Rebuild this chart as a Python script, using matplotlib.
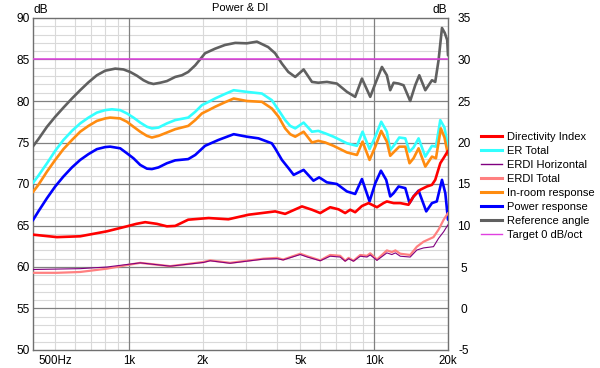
import matplotlib
matplotlib.use("Agg")
import matplotlib.pyplot as plt
from matplotlib.lines import Line2D

plt.rcParams['font.family'] = ['Liberation Sans', 'DejaVu Sans']
plt.rcParams['axes.unicode_minus'] = False

# ---------------- data (Hz, dB) ----------------
ref_f = [404, 426, 462, 499, 539, 584, 631, 682, 738, 798, 877, 948, 1009, 1075, 1144, 1200, 1256,
         1338, 1425, 1541, 1641, 1741, 1860, 2040, 2240, 2460, 2710,
         3020, 3320, 3690, 3940, 4200, 4460, 4760, 5150, 5570, 5910, 6410, 7040, 7740, 8360,
         8910, 9630, 10100, 10750, 11260, 11620, 12000, 12570, 13170, 14020, 14700, 15270,
         16160, 17200, 17740, 18300, 18900, 19400, 19850, 20000]
ref_db = [74.5, 75.4, 76.9, 78.1, 79.2, 80.3, 81.3, 82.25, 83.1, 83.65, 83.9, 83.8, 83.5, 83.05, 82.5, 82.2, 82.05,
          82.2, 82.4, 82.9, 83.1, 83.5, 84.3, 85.75, 86.3, 86.75, 87.0,
          86.95, 87.15, 86.5, 85.75, 84.5, 83.5, 82.9, 83.8, 82.3, 82.2, 82.3, 82.1, 81.1, 80.5,
          82.7, 80.5, 82.1, 84.1, 83.1, 81.3, 82.2, 82.1, 81.9, 80.0, 81.9, 83.1,
          81.3, 82.5, 82.3, 84.9, 88.8, 88.2, 87.35, 85.5]

er_f = [404, 426, 462, 499, 539, 584, 631, 682, 738, 798, 850, 919, 979, 1041, 1109, 1181, 1238, 1317,
        1425, 1541, 1741, 1860, 1980, 2110, 2240, 2460, 2670, 3020,
        3480, 3820, 4070, 4330, 4540, 4760, 5150, 5570, 5910, 6310, 6820, 7740, 8500, 8960, 9570, 10100,
        10680, 11260, 11620, 12070, 12650, 13390, 13930, 14470, 15170, 16160, 17200, 17860,
        18600, 19350, 20000]
er_db = [70.1, 71.0, 72.5, 74.0, 75.3, 76.4, 77.3, 78.0, 78.6, 78.9, 79.0, 78.9, 78.5, 78.0, 77.4, 76.9, 76.7, 76.8,
         77.3, 77.7, 78.0, 78.7, 79.5, 79.9, 80.3, 80.85, 81.3, 81.1,
         80.9, 80.1, 78.9, 77.7, 77.0, 76.7, 77.4, 76.3, 76.4, 76.1, 75.7, 74.9, 74.6, 76.3, 74.2, 75.7,
         77.5, 76.3, 74.1, 74.7, 75.6, 75.5, 73.9, 74.4, 75.5, 73.3, 74.6, 74.5,
         77.7, 76.8, 74.5]

room_f = [404, 426, 462, 499, 539, 584, 631, 682, 738, 798, 836, 919, 979, 1041, 1109, 1181, 1238, 1317,
          1425, 1541, 1741, 1860, 1980, 2110, 2240, 2460, 2670, 3020,
          3480, 3820, 4070, 4330, 4540, 4760, 5150, 5570, 5910, 6310, 6820, 7740, 8500, 8960, 9570, 10100,
          10680, 11260, 11620, 12070, 12650, 13390, 13930, 14470, 15170, 16160, 17200, 17860,
          18700, 19350, 20000]
room_db = [69.0, 69.9, 71.5, 72.9, 74.2, 75.3, 76.3, 77.0, 77.6, 77.9, 78.0, 77.9, 77.5, 76.9, 76.3, 75.8, 75.6, 75.8,
           76.2, 76.6, 77.0, 77.7, 78.5, 78.9, 79.3, 79.85, 80.3, 80.0,
           79.9, 79.1, 78.1, 76.7, 76.0, 75.7, 76.3, 75.0, 75.2, 75.0, 74.6, 73.8, 73.5, 75.1, 72.9, 74.5,
           76.4, 75.1, 73.4, 73.9, 74.5, 74.5, 72.5, 73.1, 74.3, 72.1, 73.3, 73.1,
           76.7, 75.6, 73.5]

pwr_f = [404, 426, 462, 499, 539, 584, 631, 682, 738, 798, 836, 919, 979, 1041, 1109, 1181, 1238, 1317,
         1425, 1541, 1741, 1860, 2040, 2310, 2670, 3020,
         3370, 3820, 3940, 4200, 4470, 4690, 5150, 5650, 5960, 6410, 7040, 7740, 8360, 8910, 9570, 10100,
         10650, 11190, 11620, 12000, 12570, 13390, 13930, 14470, 15170, 16300, 17200, 18000,
         18900, 19500, 20000]
pwr_db = [65.6, 66.7, 68.3, 69.7, 70.9, 72.0, 72.9, 73.6, 74.2, 74.45, 74.5, 74.3, 73.7, 73.1, 72.3, 71.85, 71.8, 72.0,
          72.5, 72.85, 73.0, 73.5, 74.6, 75.3, 76.0, 75.7,
          75.5, 74.9, 74.3, 72.9, 71.9, 71.1, 71.7, 70.4, 70.8, 70.2, 70.0, 69.1, 68.8, 70.6, 67.9, 70.1,
          71.6, 70.5, 68.5, 68.9, 69.7, 69.5, 67.7, 68.5, 69.2, 66.7, 67.7, 67.9,
          70.5, 68.9, 65.7]

# right-axis series (dB)
di_f = [404, 507, 631, 811, 979, 1070, 1162, 1297, 1425, 1541, 1741, 2110, 2540, 3070, 3480, 3940, 4330,
        5070, 5570, 6020, 6610, 7150, 7610, 7980, 8360, 8910, 9480, 10260, 10910, 11260, 12000,
        12770, 13800, 14470, 15400, 16400, 17200, 17740, 18600, 19350, 20000]
di_db = [8.9, 8.6, 8.7, 9.3, 9.9, 10.2, 10.4, 10.2, 9.9, 9.95, 10.7, 10.9, 10.75, 11.3, 11.5, 11.7, 11.4,
         12.3, 11.9, 11.5, 12.2, 11.95, 11.5, 11.9, 11.6, 12.35, 12.7, 12.2, 12.7, 12.9, 12.7,
         12.7, 12.5, 13.5, 14.3, 14.7, 14.9, 15.5, 17.5, 18.3, 19.0]

erdi_t_f = [404, 507, 631, 811, 1009, 1109, 1470, 2010, 2140, 2580, 3530, 4010, 4250, 4990, 5330,
            6020, 6610, 7260, 7610, 7860, 8230, 8770, 9340, 9630, 10260, 11260, 11800, 12200,
            12770, 14020, 14930, 15900, 17450, 18300, 19200, 20000]
erdi_t_db = [4.3, 4.3, 4.4, 4.8, 5.3, 5.5, 5.1, 5.6, 5.8, 5.5, 6.0, 6.1, 5.9, 6.6, 6.3,
             5.8, 6.45, 6.35, 5.75, 6.1, 5.75, 6.45, 6.35, 6.65, 5.9, 7.0, 6.8, 7.0,
             6.6, 6.45, 7.45, 8.05, 8.6, 9.5, 10.7, 11.5]

erdi_h_f = [404, 507, 631, 811, 1009, 1109, 1470, 2010, 2140, 2580, 3530, 4010, 4250, 4990, 5330,
            6020, 6610, 7260, 7610, 7860, 8230, 8770, 9340, 9630, 10260, 11260, 11800, 12200,
            12770, 14020, 14930, 15900, 17450, 18300, 19200, 20000]
erdi_h_db = [4.7, 4.75, 4.8, 5.0, 5.35, 5.5, 5.1, 5.55, 5.75, 5.45, 5.95, 6.0, 5.85, 6.5, 6.2,
             5.75, 6.3, 6.2, 5.7, 6.0, 5.7, 6.3, 6.2, 6.45, 5.8, 6.7, 6.5, 6.7,
             6.3, 6.2, 7.05, 7.3, 7.45, 8.45, 9.25, 10.1]

target_db = 85.0

x_ticks = [500, 1000, 2000, 5000, 10000, 20000]
x_labels = ['500Hz', '1k', '2k', '5k', '10k', '20k']
x_major_grid = [1000, 10000]
x_minor_grid = [500, 600, 700, 800, 900, 2000, 3000, 4000, 5000, 6000, 7000, 8000, 9000, 20000]

# ---------------- figure ----------------
W, H = 600, 368
fig = plt.figure(figsize=(W / 100, H / 100), dpi=100)
ax = fig.add_axes([33 / W, 18 / H, 415 / W, 332 / H])
ax.set_xscale('log')
ax.set_xlim(405, 20000)
ax.set_ylim(50, 90)

minor_c = '#d9d9d9'
major_c = '#808080'
for f in x_minor_grid:
    ax.axvline(f, color=minor_c, lw=0.8, zorder=0)
for v in range(50, 91):
    if v % 5:
        ax.axhline(v, color=minor_c, lw=0.8, zorder=0)
for f in x_major_grid:
    ax.axvline(f, color=major_c, lw=0.9, zorder=0.5)
for v in range(55, 90, 5):
    ax.axhline(v, color=major_c, lw=0.9, zorder=0.5)

for s in ax.spines.values():
    s.set_color('#707070')
    s.set_linewidth(1.0)

ax.set_xticks(x_ticks)
ax.set_xticklabels(x_labels)
ax.xaxis.set_minor_locator(matplotlib.ticker.NullLocator())
ax.set_yticks(range(50, 91, 5))
ax.tick_params(axis='both', length=0)
ax.tick_params(axis='x', pad=3.5, labelsize=8.3)
ax.tick_params(axis='y', pad=2.2, labelsize=8.6)

kw = dict(solid_joinstyle='round', solid_capstyle='round')
# left-axis curves
ax.plot(er_f, er_db, color='#33ffff', lw=1.9, zorder=3, **kw)
ax.plot(room_f, room_db, color='#ff8c10', lw=1.9, zorder=3, **kw)
ax.plot(pwr_f, pwr_db, color='#0000ff', lw=1.9, zorder=3, **kw)
ax.plot(ref_f, ref_db, color='#606060', lw=1.9, zorder=3, **kw)
ax.axhline(target_db, color='#e040e0', lw=1.1, zorder=3)

# right axis
ax2 = ax.twinx()
ax2.set_ylim(-5, 35)
ax2.set_yticks(range(-5, 36, 5))
ax2.tick_params(axis='y', length=0, pad=11.5, labelsize=8.6)
for lbl in ax2.get_yticklabels():
    lbl.set_horizontalalignment('center')
for s in ax2.spines.values():
    s.set_visible(False)
ax2.plot(di_f, di_db, color='#ff0000', lw=1.9, zorder=3, **kw)
ax2.plot(erdi_t_f, erdi_t_db, color='#ff8080', lw=1.6, zorder=3, **kw)
ax2.plot(erdi_h_f, erdi_h_db, color='#800080', lw=0.8, zorder=3, **kw)

# texts
fig.text(240 / W, 1 - 8 / H, 'Power & DI', ha='center', va='center', fontsize=8)
fig.text(34 / W, 1 - 10 / H, 'dB', ha='left', va='center', fontsize=8.6)
fig.text(447 / W, 1 - 10 / H, 'dB', ha='right', va='center', fontsize=8.6)

# legend
handles = [
    Line2D([], [], color='#ff0000', lw=2.2),
    Line2D([], [], color='#33ffff', lw=2.2),
    Line2D([], [], color='#800080', lw=1.0),
    Line2D([], [], color='#ff8080', lw=2.2),
    Line2D([], [], color='#ff8c10', lw=2.2),
    Line2D([], [], color='#0000ff', lw=2.2),
    Line2D([], [], color='#606060', lw=2.2),
    Line2D([], [], color='#e040e0', lw=1.0),
]
labels = ['Directivity Index', 'ER Total', 'ERDI Horizontal', 'ERDI Total',
          'In-room response', 'Power response', 'Reference angle', 'Target 0 dB/oct']
fig.legend(handles, labels, loc='upper left', bbox_to_anchor=(481 / W, 1 - 132 / H),
           frameon=False, fontsize=8, handlelength=1.9, handletextpad=0.4,
           labelspacing=0.36, borderpad=0, borderaxespad=0)

fig.savefig('out.png', dpi=100)
